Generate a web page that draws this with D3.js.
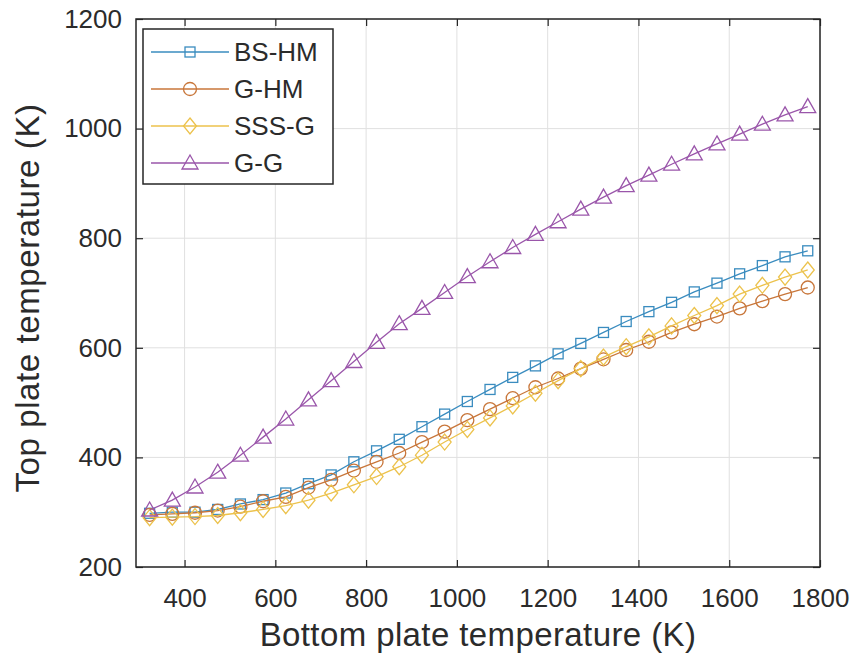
<!DOCTYPE html>
<html>
<head>
<meta charset="utf-8">
<script src="https://cdn.jsdelivr.net/npm/d3@7/dist/d3.min.js"></script>
<style>
  html, body { margin: 0; padding: 0; background: #fff; }
  svg { display: block; }
  text { font-family: "Liberation Sans", Arial, Helvetica, sans-serif; fill: #2b2b2b; }
</style>
</head>
<body>
<svg id="chart" width="857" height="666"></svg>
<script>
// ---- data ----
const bottomTemp = [323, 373, 423, 473, 523, 573, 623, 673, 723, 773, 823, 873, 923, 973, 1023,
                    1073, 1123, 1173, 1223, 1273, 1323, 1373, 1423, 1473, 1523, 1573, 1623, 1673, 1723, 1773];
const bsHM  = [298, 300, 300, 305, 315, 323, 335, 352, 368, 392, 412, 433, 456, 479, 502,
               524, 546, 567, 589, 608, 628, 648, 666, 683, 702, 718, 735, 750, 766, 777];
const gHM   = [295, 297, 299, 303, 310, 320, 328, 345, 359, 376, 392, 408, 428, 447, 468,
               488, 508, 528, 544, 562, 579, 596, 611, 628, 643, 657, 672, 685, 698, 710];
const sssG  = [290, 291, 292, 294, 299, 305, 312, 322, 335, 350, 365, 383, 404, 428, 451,
               472, 494, 517, 540, 562, 583, 602, 620, 640, 659, 677, 698, 714, 729, 742];
const gG    = [304, 322, 346, 373, 404, 437, 470, 505, 540, 575, 610, 644, 672, 701, 730,
               757, 783, 807, 830, 853, 875, 896, 915, 935, 954, 972, 990, 1008, 1025, 1040];
const seriesNames = ["BS-HM", "G-HM", "SSS-G", "G-G"];
const xTicks = [400, 600, 800, 1000, 1200, 1400, 1600, 1800];
const yTicks = [200, 400, 600, 800, 1000, 1200];
const xTitle = "Bottom plate temperature (K)";
const yTitle = "Top plate temperature (K)";

// ---- styles ----
const colors = ["#3a8cbf", "#c8763a", "#ecc24c", "#9a56aa"];
const shapes = ["square", "circle", "diamond", "triangle"];
const seriesValues = [bsHM, gHM, sssG, gG];

const svg = d3.select("#chart");
const L = 136, R = 820, T = 19, B = 567;
const x = d3.scaleLinear().domain([293, 1800]).range([L, R]);
const y = d3.scaleLinear().domain([200, 1200]).range([B, T]);

// grid
const grid = svg.append("g");
grid.selectAll("line.gx").data(xTicks).enter().append("line")
  .attr("x1", d => x(d)).attr("x2", d => x(d)).attr("y1", T).attr("y2", B)
  .attr("stroke", "#e0e0e0").attr("stroke-width", 1);
grid.selectAll("line.gy").data(yTicks).enter().append("line")
  .attr("x1", L).attr("x2", R).attr("y1", d => y(d)).attr("y2", d => y(d))
  .attr("stroke", "#e0e0e0").attr("stroke-width", 1);

// axes (inward ticks, mirrored)
const tickLen = 7;
const axB = svg.append("g").attr("transform", `translate(0,${B})`)
  .call(d3.axisBottom(x).tickValues(xTicks).tickSize(-tickLen).tickPadding(22).tickFormat(d3.format("d")));
const axT = svg.append("g").attr("transform", `translate(0,${T})`)
  .call(d3.axisTop(x).tickValues(xTicks).tickSize(-tickLen).tickFormat(""));
const axL = svg.append("g").attr("transform", `translate(${L},0)`)
  .call(d3.axisLeft(y).tickValues(yTicks).tickSize(-tickLen).tickPadding(14).tickFormat(d3.format("d")));
const axR = svg.append("g").attr("transform", `translate(${R},0)`)
  .call(d3.axisRight(y).tickValues(yTicks).tickSize(-tickLen).tickFormat(""));
[axB, axT, axL, axR].forEach(a => {
  a.select(".domain").remove();
  a.selectAll(".tick line").attr("stroke", "#262626").attr("stroke-width", 1.2);
  a.selectAll(".tick text").style("font-size", "26px").attr("fill", "#2b2b2b");
});
axB.selectAll(".tick text").attr("dy", "0.71em");

// frame
svg.append("rect").attr("x", L).attr("y", T).attr("width", R - L).attr("height", B - T)
  .attr("fill", "none").attr("stroke", "#262626").attr("stroke-width", 1.5);

// marker drawing
function marker(g, shape, cx, cy, color) {
  if (shape === "square") {
    g.append("rect").attr("x", cx - 5).attr("y", cy - 5).attr("width", 10).attr("height", 10)
      .attr("fill", "none").attr("stroke", color).attr("stroke-width", 1.3);
  } else if (shape === "circle") {
    g.append("circle").attr("cx", cx).attr("cy", cy).attr("r", 6.5)
      .attr("fill", "none").attr("stroke", color).attr("stroke-width", 1.3);
  } else if (shape === "diamond") {
    g.append("path").attr("d", `M${cx},${cy - 8}L${cx + 6.5},${cy}L${cx},${cy + 8}L${cx - 6.5},${cy}Z`)
      .attr("fill", "none").attr("stroke", color).attr("stroke-width", 1.3);
  } else {
    g.append("path").attr("d", `M${cx},${cy - 8}L${cx + 8},${cy + 6}L${cx - 8},${cy + 6}Z`)
      .attr("fill", "none").attr("stroke", color).attr("stroke-width", 1.3);
  }
}

// series
const line = d3.line().x(d => x(d[0])).y(d => y(d[1]));
seriesValues.forEach((vals, i) => {
  const pts = bottomTemp.map((t, k) => [t, vals[k]]);
  const g = svg.append("g");
  g.append("path").attr("d", line(pts)).attr("fill", "none")
    .attr("stroke", colors[i]).attr("stroke-width", 1.3);
  pts.forEach(p => marker(g, shapes[i], x(p[0]), y(p[1]), colors[i]));
});

// legend
const lg = svg.append("g");
lg.append("rect").attr("x", 143).attr("y", 29).attr("width", 190).attr("height", 155)
  .attr("fill", "#fff").attr("stroke", "#262626").attr("stroke-width", 1.5);
seriesNames.forEach((name, i) => {
  const cy = 52 + i * 37;
  lg.append("line").attr("x1", 151).attr("x2", 229).attr("y1", cy).attr("y2", cy)
    .attr("stroke", colors[i]).attr("stroke-width", 1.3);
  marker(lg, shapes[i], 190, cy, colors[i]);
  lg.append("text").attr("x", 234).attr("y", cy).attr("dy", "0.36em")
    .style("font-size", "26px").text(name);
});

// axis titles
svg.append("text").attr("x", (L + R) / 2).attr("y", 646).attr("text-anchor", "middle")
  .style("font-size", "33px").style("letter-spacing", "0.4px").text(xTitle);
svg.append("text").attr("transform", `translate(39,298) rotate(-90)`)
  .attr("text-anchor", "middle").style("font-size", "33px").style("letter-spacing", "0.6px").text(yTitle);
</script>
</body>
</html>
